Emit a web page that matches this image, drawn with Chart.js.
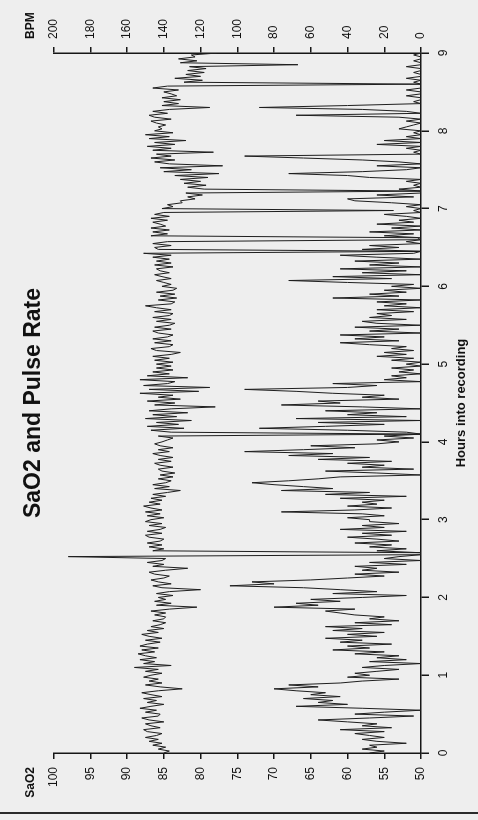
<!DOCTYPE html>
<html>
<head>
<meta charset="utf-8">
<title>SaO2 and Pulse Rate</title>
<script src="https://cdn.jsdelivr.net/npm/chart.js@4.4.1/dist/chart.umd.min.js"></script>
<style>
  html, body { margin: 0; padding: 0; background: #eeeeee; overflow: hidden; }
  body { width: 478px; height: 820px; position: relative; }
  /* the printout is landscape, the scan is turned a quarter left */
  #sheet { position: absolute; left: 0; top: 0; width: 820px; height: 478px;
           transform-origin: 0 0; transform: translateY(820px) rotate(-90deg); }
  #scanEdge { position: absolute; left: 0; top: 812px; width: 478px; height: 2px; background: #2a2a2a; }
</style>
</head>
<body>
<div id="sheet"><canvas id="chart" width="820" height="478"></canvas></div>
<div id="scanEdge"></div>
<script>
// one sample every 0.025 h (1.5 min)
const SAMPLE_STEP_H = 0.025;

const hourTicks = [0, 1, 2, 3, 4, 5, 6, 7, 8, 9];
const sao2Ticks = [50, 55, 60, 65, 70, 75, 80, 85, 90, 95, 100];
const bpmTicks = [0, 20, 40, 60, 80, 100, 120, 140, 160, 180, 200];

// pulse rate, BPM
const pulseRate = [
  140,137,143,139,146,141,148,143,150,144,141,149,151,142,147,150,140,148,152,143,142,150,144,153,147,140,149,144,151,141,147,152,143,130,142,150,141,148,143,151, // 0 h
  147,141,150,143,156,136,151,145,153,144,150,154,145,152,143,153,149,142,150,141,148,152,143,149,140,147,142,139,146,140,139,145,139,147,137,122,144,136,145,139, // 1 h
  143,135,144,137,120,141,146,136,143,147,140,137,145,148,139,127,146,140,149,141,139,192,0,0,146,140,148,141,149,142,140,148,150,141,149,142,139,148,141,150, // 2 h
  147,140,149,142,150,141,147,151,142,148,141,147,139,146,138,131,145,137,146,139,136,143,135,142,134,141,143,135,142,145,136,143,135,142,146,137,143,135,142,145, // 3 h
  141,138,135,143,0,136,147,129,149,132,144,125,150,133,146,127,148,136,112,145,134,149,131,143,135,153,121,148,115,151,138,134,153,127,149,137,146,135,144,136, // 4 h
  144,135,145,137,146,136,131,144,147,137,135,145,136,146,138,135,143,146,136,145,137,134,144,136,146,137,135,145,136,144,150,136,134,143,133,142,134,144,135,133, // 5 h
  141,136,140,144,136,141,145,137,142,144,135,145,136,144,137,146,136,151,0,143,145,136,146,138,0,2,147,138,146,137,147,139,142,146,138,147,137,145,140,15, // 6 h
  141,135,138,130,131,123,127,119,128,0,118,127,117,129,120,131,116,134,110,140,125,142,108,137,145,134,147,136,144,113,146,136,149,134,145,128,148,137,150,135, // 7 h
  145,141,143,139,144,147,136,145,148,138,146,137,115,141,132,140,131,141,133,136,140,132,146,138,0,129,119,134,120,128,118,127,117,126,67,131,122,132,123,125,111 // 8 h .. 9 h
];

// oxygen saturation, %
const sao2 = [
  57,55,58,56,57,52,56,58,55,57,59,55,61,54,58,56,60,64,57,51,59,55,50,58,67,60,64,62,66,61,65,63,67,70,64,68,61,58,53,60, // 0 h
  57,59,56,53,58,55,50,57,52,56,53,59,55,62,57,60,54,61,58,63,56,60,55,62,58,63,54,59,53,57,55,59,61,63,59,70,64,67,61,65, // 1 h
  58,52,62,56,61,66,76,70,73,65,60,55,59,53,58,56,59,52,57,50,55,53,50,50,56,52,57,54,59,53,56,60,54,58,52,61,55,58,53,57, // 2 h
  57,60,55,58,69,59,54,60,56,58,55,61,52,63,57,69,62,66,70,73,68,64,61,50,56,63,51,58,55,60,54,64,57,68,62,74,66,59,65,56, // 3 h
  53,56,51,55,50,52,60,72,63,55,64,50,67,52,60,56,63,50,58,69,61,64,53,58,55,62,67,74,60,56,62,50,55,52,54,50,53,51,54,50, // 4 h
  52,50,54,51,56,52,55,51,54,52,57,61,53,59,55,61,50,57,53,59,50,56,58,52,57,54,56,51,56,50,55,52,56,50,62,53,57,52,55,50, // 5 h
  54,51,60,68,54,62,50,58,52,61,50,57,53,59,50,56,61,51,50,58,53,57,50,52,50,50,55,51,57,50,54,50,56,51,53,50,52,55,50,51, // 6 h
  50,52,50,54,59,60,51,56,50,50,53,50,51,50,52,50,57,60,68,58,52,50,56,50,53,58,66,74,50,51,50,52,50,56,50,55,50,52,50,51, // 7 h
  50,53,52,51,50,52,50,53,67,50,52,58,72,60,50,51,50,50,52,50,50,52,50,50,50,51,50,52,50,50,51,50,50,52,50,50,51,50,50,51,50 // 8 h .. 9 h
];

const hours = pulseRate.map((_, i) => +(i * SAMPLE_STEP_H).toFixed(3));

const ink = '#161616';
Chart.defaults.font.family = '"Liberation Sans", Arial, Helvetica, sans-serif';
Chart.defaults.color = '#111';

function fixedTicks(values) {
  return scale => { scale.ticks = values.map(v => ({ value: v })); };
}

// "SaO2" / "BPM" headings sit over the tick label columns
const axisHeaders = {
  id: 'axisHeaders',
  afterDraw(chart) {
    const { ctx, chartArea, scales } = chart;
    ctx.save();
    ctx.font = 'bold 12px "Liberation Sans", Arial, sans-serif';
    ctx.fillStyle = '#111';
    ctx.textBaseline = 'alphabetic';
    ctx.textAlign = 'right';
    ctx.fillText('SaO2', scales.sao2.right - 14, chartArea.top - 20);
    ctx.textAlign = 'left';
    ctx.fillText('BPM', scales.bpm.left + 14, chartArea.top - 20);
    ctx.restore();
  }
};

const axisGrid = len => ({ drawOnChartArea: false, drawTicks: true, tickLength: len, color: ink, lineWidth: 1.5 });
const axisBorder = { display: true, color: ink, width: 1.5 };

const traceStyle = { borderColor: '#1e1e1e', borderWidth: 1, pointRadius: 0, tension: 0 };

new Chart(document.getElementById('chart'), {
  type: 'line',
  data: {
    labels: hours,
    datasets: [
      { label: 'SaO2', data: sao2, yAxisID: 'sao2', ...traceStyle },
      { label: 'Pulse Rate', data: pulseRate, yAxisID: 'bpm', ...traceStyle }
    ]
  },
  options: {
    responsive: false,
    animation: false,
    events: [],
    layout: { padding: { left: 25, right: 11, top: 0, bottom: 9 } },
    plugins: {
      legend: { display: false },
      tooltip: { enabled: false },
      title: {
        display: true,
        text: 'SaO2 and Pulse Rate',
        color: '#111',
        font: { size: 23, weight: 'bold' },
        padding: { top: 20, bottom: 6 }
      }
    },
    scales: {
      x: {
        type: 'linear',
        min: 0,
        max: 9,
        afterBuildTicks: fixedTicks(hourTicks),
        grid: axisGrid(8),
        border: axisBorder,
        ticks: { padding: 7, maxRotation: 0, font: { size: 12 } },
        title: { display: true, text: 'Hours into recording', font: { size: 13, weight: 'bold' }, padding: { top: -4, bottom: 0 } }
      },
      sao2: {
        position: 'left',
        min: 50,
        max: 100,
        afterBuildTicks: fixedTicks(sao2Ticks),
        grid: axisGrid(6),
        border: axisBorder,
        ticks: { padding: 8, font: { size: 12 } }
      },
      bpm: {
        position: 'right',
        min: 0,
        max: 200,
        afterBuildTicks: fixedTicks(bpmTicks),
        grid: axisGrid(6),
        border: axisBorder,
        ticks: { padding: 8, font: { size: 12 } }
      }
    }
  },
  plugins: [axisHeaders]
});
</script>
</body>
</html>
